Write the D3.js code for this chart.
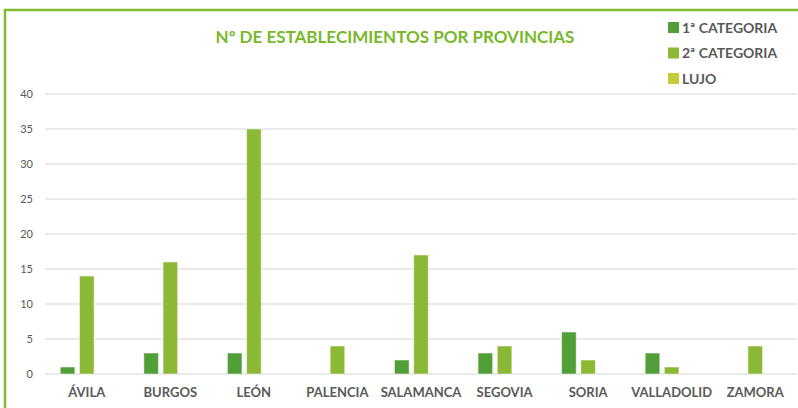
<!DOCTYPE html>
<html>
<head>
<meta charset="utf-8">
<script src="https://cdn.jsdelivr.net/npm/d3@7"></script>
<style>
  body { margin: 0; background: #fff; }
  svg { display: block; font-family: Lato, "Open Sans", sans-serif; }
</style>
</head>
<body>
<svg id="chart" width="798" height="408"></svg>
<script>
// provincias y series
var provincias = ['ÁVILA', 'BURGOS', 'LEÓN', 'PALENCIA', 'SALAMANCA', 'SEGOVIA', 'SORIA', 'VALLADOLID', 'ZAMORA'];
var series = ['1ª CATEGORIA', '2ª CATEGORIA', 'LUJO'];
var primera = [1, 3, 3, 0, 2, 3, 6, 3, 0];
var segunda = [14, 16, 35, 4, 17, 4, 2, 1, 4];
var lujo = [0, 0, 0, 0, 0, 0, 0, 0, 0];
var yTicks = [0, 5, 10, 15, 20, 25, 30, 35, 40];
var colores = ['#529e38', '#8cb935', '#c3cc3a'];

var valores = [primera, segunda, lujo];
var svg = d3.select('#chart');

// marco verde
svg.append('rect')
	.attr('x', 5).attr('y', 10)
	.attr('width', 820).attr('height', 420)
	.attr('fill', 'none')
	.attr('stroke', '#80bd2c')
	.attr('stroke-width', 2.5);

var x = d3.scaleBand().domain(provincias).range([45, 797]);
var xs = d3.scaleBand().domain(series).range([0, 53]).paddingInner(0.24);
var y = d3.scaleLinear().domain([0, 40]).range([374, 94]);

svg.selectAll('.grid')
	.data(yTicks)
	.enter().append('line')
	.attr('x1', 45).attr('x2', 797)
	.attr('y1', function(d) { return y(d); })
	.attr('y2', function(d) { return y(d); })
	.attr('stroke', '#e3e3e3')
	.attr('stroke-width', 1.3);

svg.selectAll('.ytick')
	.data(yTicks)
	.enter().append('text')
	.attr('x', 33)
	.attr('y', function(d) { return y(d); })
	.attr('dy', '0.35em')
	.attr('text-anchor', 'end')
	.attr('font-size', 11)
	.attr('fill', '#595959')
	.text(function(d) { return d; });

var grupos = svg.selectAll('.grupo')
	.data(provincias)
	.enter().append('g')
	.attr('transform', function(d) {
		return 'translate(' + (x(d) + x.bandwidth() / 2 - 26.5) + ',0)';
	});

grupos.selectAll('rect')
	.data(function(d, i) {
		return series.map(function(s, j) { return { s: s, v: valores[j][i], c: colores[j] }; });
	})
	.enter().append('rect')
	.filter(function(d) { return d.v > 0; })
	.attr('x', function(d) { return xs(d.s); })
	.attr('y', function(d) { return y(d.v); })
	.attr('width', xs.bandwidth())
	.attr('height', function(d) { return y(0) - y(d.v); })
	.attr('fill', function(d) { return d.c; })
	.attr('stroke', 'rgba(255,255,255,0.5)')
	.attr('stroke-width', 1);

svg.selectAll('.xlab')
	.data(provincias)
	.enter().append('text')
	.attr('x', function(d) { return x(d) + x.bandwidth() / 2; })
	.attr('y', 397)
	.attr('text-anchor', 'middle')
	.attr('font-size', 13)
	.attr('font-weight', 'bold')
	.attr('fill', '#595959')
	.text(function(d) { return d; });

svg.append('text')
	.attr('x', 395).attr('y', 43)
	.attr('text-anchor', 'middle')
	.attr('font-size', 17)
	.attr('font-weight', 'bold')
	.attr('fill', '#78b82a')
	.text('Nº DE ESTABLECIMIENTOS POR PROVINCIAS');

var leyenda = svg.selectAll('.ley')
	.data(series)
	.enter().append('g')
	.attr('transform', function(d, i) { return 'translate(668,' + (22 + i * 25.5) + ')'; });

leyenda.append('rect')
	.attr('width', 11).attr('height', 11)
	.attr('fill', function(d, i) { return colores[i]; });

leyenda.append('text')
	.attr('x', 14).attr('y', 10.5)
	.attr('font-size', 14)
	.attr('font-weight', 'bold')
	.attr('fill', '#595959')
	.text(function(d) { return d; });
</script>
</body>
</html>
